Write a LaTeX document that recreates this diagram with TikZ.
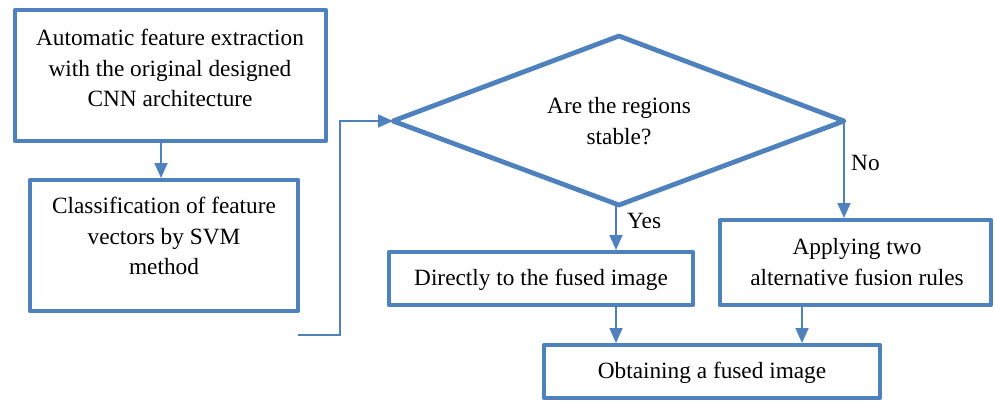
\documentclass[tikz,border=0pt]{standalone}
\usepackage{fontspec}
\setmainfont{Liberation Serif}
\usetikzlibrary{arrows.meta}
\definecolor{fcblue}{HTML}{4F81BD}
\begin{document}
\begin{tikzpicture}[x=1pt,y=-1pt,
  boxline/.style={draw=fcblue,line width=4.8pt,line join=round},
  conn/.style={draw=fcblue,line width=1.8pt,-{Triangle[width=13pt,length=15pt]}},
  txt/.style={font=\fontsize{23.3}{30.5}\selectfont,align=center,inner sep=0pt},
  lbl/.style={font=\fontsize{23.3}{30.5}\selectfont,inner sep=0pt,anchor=base west}]
\useasboundingbox (0,0) rectangle (995,401);
% boxes
\coordinate (b1nw) at (15,10); \coordinate (b1se) at (326,141);
\draw[boxline] (b1nw) rectangle (b1se);
\coordinate (b2nw) at (30,180); \coordinate (b2se) at (298,311);
\draw[boxline] (b2nw) rectangle (b2se);
\coordinate (b3nw) at (389,252); \coordinate (b3se) at (693,305);
\draw[boxline] (b3nw) rectangle (b3se);
\coordinate (b4nw) at (720,220); \coordinate (b4se) at (991,305);
\draw[boxline] (b4nw) rectangle (b4se);
\coordinate (b5nw) at (544,345); \coordinate (b5se) at (880,398);
\draw[boxline] (b5nw) rectangle (b5se);
% diamond
\coordinate (dl) at (393,121); \coordinate (dt) at (619,36);
\coordinate (dr) at (844,121); \coordinate (db) at (619,205);
\draw[boxline] (dl) -- (dt) -- (dr) -- (db) -- cycle;
% texts
\node[txt] (t1) at (170,68) {Automatic feature extraction\\with the original designed\\CNN architecture};
\node[txt] (t2) at (164,236) {Classification of feature\\vectors by SVM\\method};
\node[txt] (t3) at (619,121) {Are the regions\\stable?};
\node[txt,anchor=base] (t4) at (541,285) {Directly to the fused image};
\node[txt] (t5) at (857,262) {Applying two\\alternative fusion rules};
\node[txt,anchor=base] (t6) at (712,378) {Obtaining a fused image};
\node[lbl] (yes) at (627,228) {Yes};
\node[lbl] (no) at (851,170) {No};
% connectors
\coordinate (a1s) at (161,143); \coordinate (a1e) at (161,178);
\draw[conn] (a1s) -- (a1e);
\coordinate (c0) at (298,335); \coordinate (c1) at (340,335); \coordinate (c2) at (340,121);
\draw[conn] (c0) -- (c1) -- (c2) -- (dl);
\coordinate (ye) at (616,250);
\draw[conn] (db -| ye) -- (ye);
\coordinate (ne) at (844,218);
\draw[conn] (dr) -- (ne);
\coordinate (p1s) at (616,307); \coordinate (p1e) at (616,343);
\draw[conn] (p1s) -- (p1e);
\coordinate (p2s) at (802,307); \coordinate (p2e) at (802,343);
\draw[conn] (p2s) -- (p2e);
\end{tikzpicture}
\end{document}
